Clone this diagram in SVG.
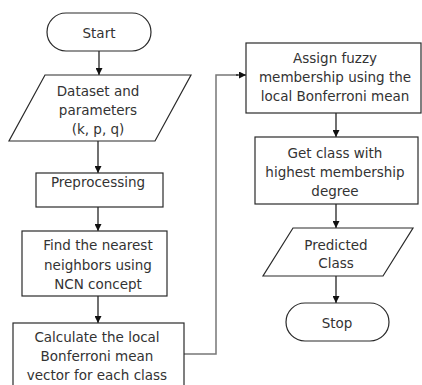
<svg xmlns="http://www.w3.org/2000/svg" width="422" height="385" viewBox="0 0 422 385">
<style>
.s{fill:#fff;stroke:#2a2a2a;stroke-width:1.2}
.t{font-family:"DejaVu Sans",Verdana,sans-serif;font-size:13.5px;fill:#333;text-anchor:middle}
.c{fill:none;stroke:#111;stroke-width:1.2}
.g{fill:none;stroke:#777;stroke-width:1.5}
</style>
<defs>
<marker id="ah" viewBox="0 0 10 10" refX="10" refY="5" markerWidth="7" markerHeight="7" markerUnits="userSpaceOnUse" orient="auto">
<path d="M0,0 L10,5 L0,10 z" fill="#111"/>
</marker>
</defs>
<rect width="422" height="385" fill="#fff"/>
<g id="connectors">
<line class="c" x1="99" y1="51" x2="99" y2="75" marker-end="url(#ah)"/>
<line class="c" x1="98" y1="141" x2="98" y2="173" marker-end="url(#ah)"/>
<line class="c" x1="98" y1="207" x2="98" y2="231" marker-end="url(#ah)"/>
<line class="c" x1="98" y1="296" x2="98" y2="323" marker-end="url(#ah)"/>
<polyline class="g" points="184,354 216,354 216,75 238,75"/>
<line class="c" x1="236" y1="75" x2="246" y2="75" marker-end="url(#ah)"/>
<line class="c" x1="336" y1="113" x2="336" y2="137" marker-end="url(#ah)"/>
<line class="c" x1="336" y1="204" x2="336" y2="228" marker-end="url(#ah)"/>
<line class="c" x1="336" y1="276" x2="336" y2="303" marker-end="url(#ah)"/>
</g>
<g id="start">
<rect class="s" x="47" y="13" width="104" height="38" rx="19" ry="19"/>
<text class="t" x="99" y="37.5">Start</text>
</g>
<g id="dataset">
<polygon class="s" points="45,75 191,75 155,141 9,141"/>
<text class="t" x="98" y="96">Dataset and</text>
<text class="t" x="98" y="115">parameters</text>
<text class="t" x="98" y="134">(k, p, q)</text>
</g>
<g id="preprocessing">
<rect class="s" x="36" y="173" width="127" height="34"/>
<text class="t" x="98" y="187">Preprocessing</text>
</g>
<g id="ncn">
<rect class="s" x="22" y="231" width="145" height="65"/>
<text class="t" x="98" y="250">Find the nearest</text>
<text class="t" x="98" y="269.5">neighbors using</text>
<text class="t" x="98" y="289">NCN concept</text>
</g>
<g id="calculate">
<rect class="s" x="13" y="323" width="171" height="75"/>
<text class="t" x="97" y="341.5">Calculate the local</text>
<text class="t" x="97" y="361">Bonferroni mean</text>
<text class="t" x="97" y="380">vector for each class</text>
</g>
<g id="assign">
<rect class="s" x="246" y="43" width="175" height="70"/>
<text class="t" x="335" y="62.5">Assign fuzzy</text>
<text class="t" x="335" y="81.5">membership using the</text>
<text class="t" x="335" y="101">local Bonferroni mean</text>
</g>
<g id="getclass">
<rect class="s" x="255" y="137" width="163" height="67"/>
<text class="t" x="335" y="157.5">Get class with</text>
<text class="t" x="335" y="176.5">highest membership</text>
<text class="t" x="335" y="196">degree</text>
</g>
<g id="predicted">
<polygon class="s" points="293,228 413,228 383,276 263,276"/>
<text class="t" x="336" y="249.5">Predicted</text>
<text class="t" x="336" y="267.5">Class</text>
</g>
<g id="stop">
<rect class="s" x="286" y="303" width="103" height="38" rx="19" ry="19"/>
<text class="t" x="337" y="327.5">Stop</text>
</g>
</svg>
